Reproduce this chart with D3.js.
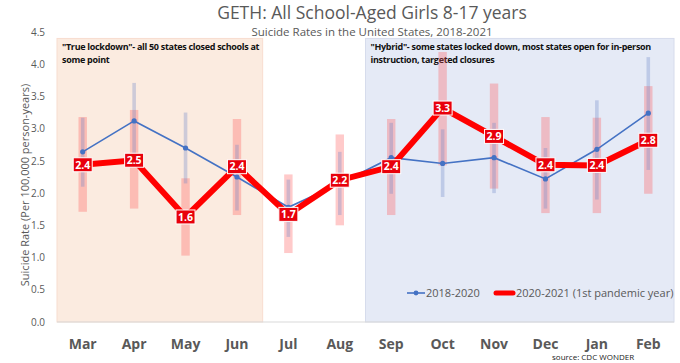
<!DOCTYPE html>
<html><head><meta charset="utf-8">
<script src="https://cdn.jsdelivr.net/npm/d3@7"></script>
<style>
body{margin:0;background:#fff;}
svg{display:block;font-family:"Open Sans",sans-serif;}
</style></head>
<body><svg id="c" width="680" height="363"></svg>
<script>
const months = ["Mar","Apr","May","Jun","Jul","Aug","Sep","Oct","Nov","Dec","Jan","Feb"];
const base = [2.64,3.12,2.70,2.25,1.78,2.15,2.55,2.46,2.55,2.22,2.68,3.24];
const baseLo = [2.10,2.53,2.15,1.73,1.32,1.66,1.99,1.94,2.00,1.76,1.90,2.36];
const baseHi = [3.17,3.71,3.25,2.75,2.21,2.64,3.09,2.99,3.09,2.70,3.44,4.11];
const pand = [2.44,2.51,1.63,2.41,1.67,2.20,2.41,3.32,2.88,2.44,2.43,2.82];
const pandLo = [1.71,1.76,1.03,1.66,1.07,1.50,1.66,2.43,2.07,1.69,1.69,1.99];
const pandHi = [3.18,3.29,2.23,3.15,2.29,2.91,3.15,4.19,3.70,3.18,3.17,3.66];
const yTicks = [0,0.5,1,1.5,2,2.5,3,3.5,4,4.5];
const periods = [
  {from:"Mar", to:"Jun", top:4.4, fill:"#fbebe0", stroke:"#f8ddd0",
   lines:["\"True lockdown\"- all 50 states closed schools at","some point"]},
  {from:"Sep", to:"Feb", top:4.4, fill:"#e5eaf6", stroke:"#d6dcec",
   lines:["\"Hybrid\"- some states locked down, most states open for in-person","instruction, targeted closures"]}
];
const seriesNames = ["2018-2020","2020-2021 (1st pandemic year)"];

const svg = d3.select("#c");
const L=57, R=674, T=32, B=322;
const x = d3.scaleBand().domain(months).range([L,R]);
const y = d3.scaleLinear().domain([0,4.5]).range([B,T]);
const cx = m => x(m)+x.bandwidth()/2;
const grey="#595959";

// period backgrounds
periods.forEach(p=>{
  const x0=x(p.from), x1=x(p.to)+x.bandwidth();
  svg.append("rect").attr("x",x0).attr("y",y(p.top)).attr("width",x1-x0).attr("height",y(0)-y(p.top))
    .attr("fill",p.fill).attr("stroke",p.stroke).attr("stroke-width",1);
  const t=svg.append("text").attr("x",x0+5).attr("y",y(p.top)+12)
    .attr("font-size",9).attr("font-weight","bold").attr("fill","#111")
    .style("font-family","'Open Sans',sans-serif").attr("letter-spacing",-0.3);
  p.lines.forEach((l,i)=>t.append("tspan").attr("x",x0+5).attr("dy",i?13:0).text(l));
});

// baseline
svg.append("line").attr("x1",L).attr("x2",R).attr("y1",y(0)).attr("y2",y(0)).attr("stroke","#d9d9d9");

// y axis labels
const ya = svg.append("g").attr("transform",`translate(${L-9},0)`)
  .call(d3.axisLeft(y).tickValues(yTicks).tickFormat(d3.format(".1f")).tickSize(0));
ya.select(".domain").remove();
ya.selectAll("text").attr("fill",grey).attr("font-size",10).style("font-family","'Open Sans',sans-serif");

// x axis labels
const xa = svg.append("g").attr("transform",`translate(0,${B+14})`)
  .call(d3.axisBottom(x).tickSize(0));
xa.select(".domain").remove();
xa.selectAll("text").attr("fill",grey).attr("font-size",14).attr("font-weight","bold")
  .style("font-family","'Open Sans',sans-serif");

// CI bars
svg.append("g").selectAll("rect").data(months).join("rect")
  .attr("x",m=>cx(m)-4.2).attr("width",8.4)
  .attr("y",(m,i)=>y(pandHi[i])).attr("height",(m,i)=>y(pandLo[i])-y(pandHi[i]))
  .attr("fill","rgba(255,80,80,0.3)");
svg.append("g").selectAll("rect").data(months).join("rect")
  .attr("x",m=>cx(m)-1.8).attr("width",3.6)
  .attr("y",(m,i)=>y(baseHi[i])).attr("height",(m,i)=>y(baseLo[i])-y(baseHi[i]))
  .attr("fill","rgba(110,135,200,0.32)");

// baseline series
const line = d3.line().x((d,i)=>cx(months[i])).y(d=>y(d));
svg.append("path").datum(base).attr("d",line).attr("fill","none").attr("stroke","#4472c4").attr("stroke-width",1.6);
svg.append("g").selectAll("circle").data(base).join("circle")
  .attr("cx",(d,i)=>cx(months[i])).attr("cy",d=>y(d)).attr("r",2.6).attr("fill","#4472c4");

// pandemic series
svg.append("path").datum(pand).attr("d",line).attr("fill","none").attr("stroke","#ff0000")
  .attr("stroke-width",6).attr("stroke-linejoin","miter");
const lab = svg.append("g").selectAll("g").data(pand).join("g")
  .attr("transform",(d,i)=>`translate(${cx(months[i])},${y(d)})`);
lab.append("rect").attr("x",-9.5).attr("y",-7).attr("width",19).attr("height",14)
  .attr("fill","#e8000b").attr("stroke","#fff").attr("stroke-width",1);
lab.append("text").attr("text-anchor","middle").attr("dy","0.36em").attr("fill","#fff")
  .attr("font-size",10.5).attr("font-weight","bold").text(d=>d3.format(".1f")(d));

// title
svg.append("text").attr("x",372).attr("y",19).attr("text-anchor","middle").attr("fill",grey)
  .attr("font-size",17.5).text("GETH: All School-Aged Girls 8-17 years");
svg.append("text").attr("x",372).attr("y",35.5).attr("text-anchor","middle").attr("fill",grey)
  .attr("font-size",11.5).text("Suicide Rates in the United States, 2018-2021");

// y title
svg.append("text").attr("transform",`translate(29,${(T+B)/2+8}) rotate(-90)`).attr("text-anchor","middle")
  .attr("fill",grey).attr("font-size",11).text("Suicide Rate (Per 100,000 person-years)");

// legend
const lg = svg.append("g").attr("transform","translate(0,293)");
lg.append("line").attr("x1",407).attr("x2",425).attr("stroke","#4472c4").attr("stroke-width",1.6);
lg.append("circle").attr("cx",416).attr("r",2.4).attr("fill","#4472c4");
lg.append("text").attr("x",426).attr("dy","0.35em").attr("fill",grey).attr("font-size",11).text(seriesNames[0]);
lg.append("line").attr("x1",496).attr("x2",513).attr("stroke","#ff0000").attr("stroke-width",5).attr("stroke-linecap","round");
lg.append("text").attr("x",516).attr("dy","0.35em").attr("fill",grey).attr("font-size",11).text(seriesNames[1]);

// source
svg.append("text").attr("x",552).attr("y",360).attr("fill","#222").attr("font-size",8).text("source: CDC WONDER");
</script></body></html>
